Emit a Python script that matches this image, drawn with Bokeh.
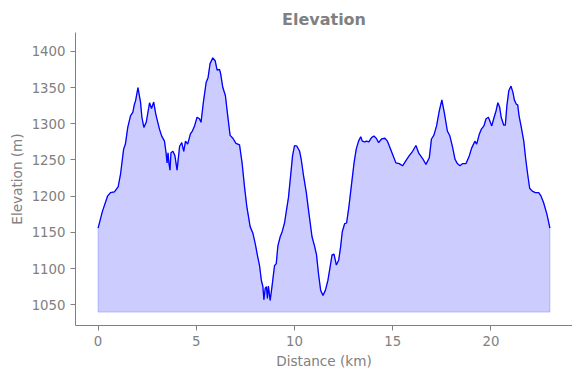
from bokeh.plotting import figure
from bokeh.models import Range1d, FixedTicker
from bokeh.embed import file_html
from bokeh.resources import INLINE

# Distance along route (km) and elevation (m)
distance_km = [
    0.00, 0.22, 0.48, 0.63, 0.83, 1.02, 1.14, 1.30, 1.39, 1.51,
    1.65, 1.77, 1.85, 1.91, 2.03, 2.16, 2.23, 2.33, 2.45, 2.62,
    2.72, 2.83, 2.94, 3.12, 3.24, 3.38, 3.46, 3.51, 3.56, 3.61,
    3.66, 3.71, 3.81, 3.91, 4.02, 4.15, 4.26, 4.36, 4.45, 4.56,
    4.70, 4.80, 4.91, 5.04, 5.16, 5.24, 5.36, 5.50, 5.60, 5.70,
    5.84, 5.96, 6.06, 6.18, 6.24, 6.35, 6.48, 6.60, 6.72, 6.86,
    7.02, 7.20, 7.33, 7.45, 7.57, 7.74, 7.88, 8.01, 8.12, 8.22,
    8.31, 8.39, 8.44, 8.51, 8.57, 8.62, 8.67, 8.76, 8.86, 8.98,
    9.07, 9.15, 9.27, 9.37, 9.49, 9.58, 9.69, 9.80, 9.90, 10.00,
    10.12, 10.26, 10.34, 10.46, 10.60, 10.73, 10.89, 11.02, 11.12, 11.22,
    11.33, 11.45, 11.57, 11.70, 11.81, 11.91, 12.01, 12.13, 12.25, 12.35,
    12.43, 12.55, 12.65, 12.77, 12.89, 13.03, 13.14, 13.26, 13.37, 13.45,
    13.57, 13.67, 13.78, 13.92, 14.04, 14.16, 14.28, 14.43, 14.60, 14.73,
    14.86, 14.99, 15.16, 15.33, 15.50, 15.67, 15.84, 16.01, 16.18, 16.33,
    16.52, 16.69, 16.86, 16.97, 17.09, 17.23, 17.37, 17.50, 17.64, 17.78,
    17.91, 18.05, 18.17, 18.29, 18.42, 18.56, 18.73, 18.90, 19.01, 19.18,
    19.27, 19.41, 19.52, 19.64, 19.75, 19.87, 20.04, 20.16, 20.26, 20.35,
    20.44, 20.52, 20.65, 20.73, 20.81, 20.91, 21.02, 21.12, 21.19, 21.29,
    21.36, 21.43, 21.53, 21.67, 21.77, 21.87, 21.97, 22.10, 22.26, 22.43,
    22.55, 22.68, 22.85, 23.00,
]
elevation_m = [
    1156, 1179, 1200, 1205, 1206, 1213, 1230, 1265, 1272, 1295,
    1311, 1316, 1327, 1332, 1350, 1330, 1309, 1295, 1302, 1329,
    1321, 1330, 1313, 1293, 1283, 1276, 1260, 1246, 1260, 1245,
    1236, 1260, 1262, 1256, 1236, 1269, 1274, 1262, 1276, 1272,
    1286, 1290, 1297, 1309, 1307, 1302, 1330, 1357, 1364, 1383,
    1391, 1387, 1374, 1375, 1369, 1350, 1339, 1311, 1284, 1280,
    1273, 1271, 1246, 1214, 1186, 1158, 1149, 1133, 1117, 1104,
    1084, 1075, 1057, 1073, 1075, 1059, 1076, 1056, 1077, 1104,
    1107, 1131, 1144, 1151, 1163, 1179, 1198, 1228, 1256, 1270,
    1269, 1262, 1251, 1228, 1205, 1177, 1144, 1131, 1119, 1093,
    1070, 1063, 1070, 1084, 1102, 1119, 1120, 1105, 1112, 1131,
    1151, 1162, 1163, 1186, 1214, 1246, 1265, 1276, 1282, 1276,
    1275, 1276, 1275, 1281, 1283, 1280, 1274, 1279, 1280, 1276,
    1267, 1258, 1246, 1245, 1242, 1249, 1256, 1262, 1270, 1259,
    1252, 1244, 1253, 1279, 1284, 1297, 1318, 1333, 1313, 1290,
    1283, 1267, 1251, 1245, 1242, 1245, 1245, 1256, 1266, 1276,
    1272, 1286, 1293, 1297, 1307, 1309, 1297, 1309, 1318, 1329,
    1323, 1309, 1298, 1298, 1325, 1346, 1352, 1343, 1333, 1327,
    1326, 1311, 1297, 1276, 1251, 1230, 1211, 1207, 1205, 1205,
    1200, 1191, 1175, 1156,
]
fill_base = 1040
x_ticks = [0, 5, 10, 15, 20]
y_ticks = [1050, 1100, 1150, 1200, 1250, 1300, 1350, 1400]

GRAY = "#808080"
FONT = "DejaVu Sans"

p = figure(
    frame_width=497, frame_height=293,
    min_border_left=75, min_border_right=0,
    min_border_top=32, min_border_bottom=45,
    x_range=Range1d(-1.15, 24.15), y_range=Range1d(1021.5, 1426),
    output_backend="svg", toolbar_location=None,
    title="Elevation",
)
p.title.align = "center"
p.title.text_font = FONT
p.title.text_font_size = "16px"
p.title.text_font_style = "bold"
p.title.text_color = GRAY
p.title.standoff = 8

# filled area polygon: along the profile, then back along the baseline
poly_x = list(distance_km) + [distance_km[-1], distance_km[0]]
poly_y = list(elevation_m) + [fill_base, fill_base]
p.patch(poly_x, poly_y, fill_color="blue", fill_alpha=0.2,
        line_color="blue", line_alpha=0.2, line_width=1)
p.line(distance_km, elevation_m, line_color="blue", line_width=1.3)

p.outline_line_color = None
p.xgrid.visible = False
p.ygrid.visible = False

for ax in (p.xaxis[0], p.yaxis[0]):
    ax.axis_line_color = GRAY
    ax.major_tick_line_color = GRAY
    ax.major_tick_out = 5
    ax.major_tick_in = 0
    ax.minor_tick_line_color = None
    ax.major_label_text_color = GRAY
    ax.major_label_text_font = FONT
    ax.major_label_text_font_size = "13.3px"
    ax.axis_label_text_color = GRAY
    ax.axis_label_text_font = FONT
    ax.axis_label_text_font_size = "13.6px"
    ax.axis_label_text_font_style = "normal"

p.xaxis.ticker = FixedTicker(ticks=x_ticks)
p.yaxis.ticker = FixedTicker(ticks=y_ticks)
p.xaxis.axis_label = "Distance (km)"
p.yaxis.axis_label = "Elevation (m)"
p.xaxis.major_label_standoff = 5
p.yaxis.major_label_standoff = 5
p.xaxis.axis_label_standoff = 4
p.yaxis.axis_label_standoff = 4

open("out.html", "w").write(file_html(p, INLINE))
